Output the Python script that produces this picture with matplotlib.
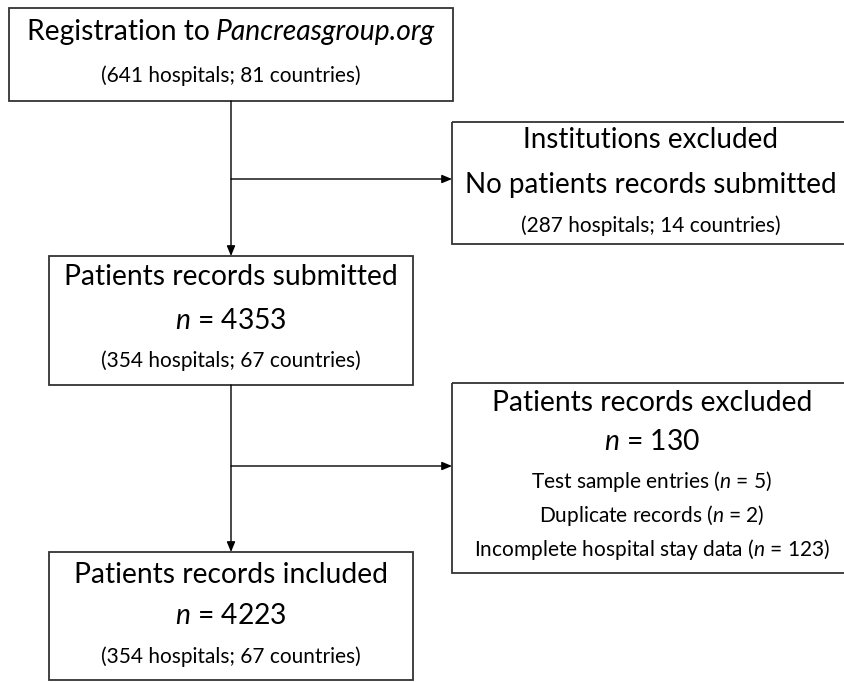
import matplotlib.pyplot as plt
from matplotlib.patches import Rectangle

plt.rcParams['font.family'] = 'Lato'
plt.rcParams['mathtext.fontset'] = 'custom'
plt.rcParams['mathtext.rm'] = 'Lato'
plt.rcParams['mathtext.it'] = 'Lato:italic'

# flow numbers
hospitals = [641, 287, 354, 354]
countries = [81, 14, 67, 67]
n_submitted = 4353
n_excluded = 130
n_included = 4223
excl_reasons = ["Test sample entries", "Duplicate records", "Incomplete hospital stay data"]
excl_counts = [5, 2, 123]

W, H = 845, 682
fig = plt.figure(figsize=(W / 100, H / 100), dpi=100)
ax = fig.add_axes([0, 0, 1, 1])
ax.set_xlim(0, W)
ax.set_ylim(H, 0)
ax.axis("off")


def box(x0, y0, x1, y1):
    ax.add_patch(Rectangle((x0, y0), x1 - x0, y1 - y0, fill=False,
                           edgecolor="#333333", linewidth=1.3))


def txt(x, y, s, size):
    return ax.text(x, y, s, ha="center", va="center", fontsize=size, color="black")


def hosp(i):
    return f"({hospitals[i]} hospitals; {countries[i]} countries)"


BIG, MID, SMALL = 20.3, 20, 15

# boxes
box(9, 8, 453, 101)
box(452, 122, 852, 244)
box(49, 256, 413, 385)
box(452, 383, 852, 573)
box(49, 552, 413, 680)

# title with italic site name: two pieces, centred together
r = fig.canvas.get_renderer()
t1 = ax.text(0, 32, "Registration to", ha="left", va="center", fontsize=BIG)
t2 = ax.text(0, 32, "Pancreasgroup.org", ha="left", va="center", fontsize=BIG,
             style="italic")
gap = 6
w1 = t1.get_window_extent(r).width
w2 = t2.get_window_extent(r).width
x_start = 231 - (w1 + gap + w2) / 2
t1.set_x(x_start)
t2.set_x(x_start + w1 + gap)
txt(231, 76, hosp(0), SMALL)

txt(651, 140, "Institutions excluded", MID)
txt(651, 185, "No patients records submitted", MID)
txt(651, 226, hosp(1), SMALL)

txt(231, 277, "Patients records submitted", BIG)
txt(231, 321, rf"$n$ = {n_submitted}", BIG)
txt(231, 361, hosp(2), SMALL)

txt(652, 403, "Patients records excluded", BIG)
txt(652, 442, rf"$n$ = {n_excluded}", BIG)
for k, (lab, c) in enumerate(zip(excl_reasons, excl_counts)):
    txt(652, 482 + 34 * k, rf"{lab} ($n$ = {c})", SMALL)

txt(231, 575, "Patients records included", BIG)
txt(231, 616, rf"$n$ = {n_included}", BIG)
txt(231, 657, hosp(3), SMALL)

# connectors
akw = dict(arrowstyle="-|>,head_length=0.6,head_width=0.25", color="black", lw=1.0,
           shrinkA=0, shrinkB=0)
ax.annotate("", xy=(231, 256), xytext=(231, 101), arrowprops=akw)
ax.annotate("", xy=(452, 179), xytext=(231, 179), arrowprops=akw)
ax.annotate("", xy=(231, 552), xytext=(231, 385), arrowprops=akw)
ax.annotate("", xy=(452, 466), xytext=(231, 466), arrowprops=akw)

fig.savefig("out.png", dpi=100)
